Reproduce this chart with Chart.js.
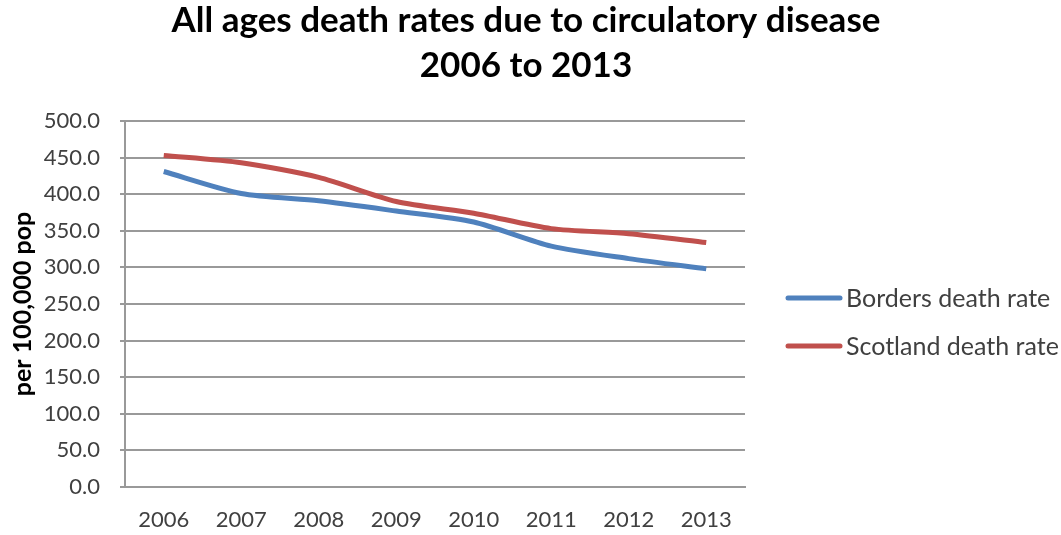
<!DOCTYPE html>
<html>
<head>
<meta charset="utf-8">
<script src="https://cdn.jsdelivr.net/npm/chart.js@4"></script>
<style>
html,body{margin:0;padding:0;background:#fff;}
#wrap{width:1061px;height:535px;position:relative;}
</style>
</head>
<body>
<div id="wrap"><canvas id="c" width="1061" height="535"></canvas></div>
<script>
const years = ["2006","2007","2008","2009","2010","2011","2012","2013"];
const bordersRate = [431, 401, 391, 377, 362, 329, 312, 298];
const scotlandRate = [453, 443, 423, 390, 374, 353, 346, 334];
const titleLines = ["All ages death rates due to circulatory disease", "2006 to 2013"];
const yAxisTitle = "per 100,000 pop";
const seriesNames = ["Borders death rate", "Scotland death rate"];

const FONT = "Lato, 'Open Sans', sans-serif";

const decorPlugin = {
  id: 'decor',
  afterDraw(chart) {
    const ctx = chart.ctx;
    // title
    ctx.save();
    ctx.fillStyle = '#000';
    ctx.font = "bold 35px " + FONT;
    ctx.textAlign = 'center';
    ctx.textBaseline = 'alphabetic';
    const baselines = [32, 77];
    titleLines.forEach((t, i) => ctx.fillText(t, 526, baselines[i]));
    ctx.restore();
    // legend
    const ys = [298, 346];
    chart.data.datasets.forEach((ds, i) => {
      ctx.save();
      ctx.strokeStyle = ds.borderColor;
      ctx.lineWidth = 5;
      ctx.lineCap = 'round';
      ctx.beginPath();
      ctx.moveTo(788, ys[i]);
      ctx.lineTo(840, ys[i]);
      ctx.stroke();
      ctx.fillStyle = '#404040';
      ctx.font = "25px " + FONT;
      ctx.textBaseline = 'middle';
      ctx.textAlign = 'left';
      ctx.fillText(ds.label, 846, ys[i] + 1);
      ctx.restore();
    });
  }
};

new Chart(document.getElementById('c'), {
  type: 'line',
  data: {
    labels: years,
    datasets: [
      { label: seriesNames[0], data: bordersRate, borderColor: '#4F81BD', backgroundColor: '#4F81BD',
        borderWidth: 5, pointRadius: 0, tension: 0.25 },
      { label: seriesNames[1], data: scotlandRate, borderColor: '#C0504D', backgroundColor: '#C0504D',
        borderWidth: 5, pointRadius: 0, tension: 0.25 }
    ]
  },
  options: {
    responsive: false,
    animation: false,
    layout: { padding: { left: 0, right: 316, top: 121, bottom: 0 } },
    plugins: {
      legend: { display: false },
      tooltip: { enabled: false },
      title: { display: false }
    },
    scales: {
      x: {
        offset: true,
        afterFit(axis) { axis.height = 48; },
        grid: { display: false, drawTicks: false },
        border: { display: true, color: '#999', width: 2 },
        ticks: { color: '#404040', font: { family: FONT, size: 22 }, padding: 20 }
      },
      y: {
        min: 0, max: 500,
        afterFit(axis) { axis.width = 125; },
        ticks: { stepSize: 50, color: '#404040', font: { family: FONT, size: 22 }, padding: 20,
          callback: v => v.toFixed(1) },
        grid: { color: '#999', lineWidth: 2, tickLength: 5, drawTicks: true },
        border: { display: true, color: '#999', width: 2 },
        title: { display: true, text: yAxisTitle, color: '#000', font: { family: FONT, size: 25, weight: 'bold' }, padding: { top: 8, bottom: 0 } }
      }
    }
  },
  plugins: [decorPlugin]
});
</script>
</body>
</html>
